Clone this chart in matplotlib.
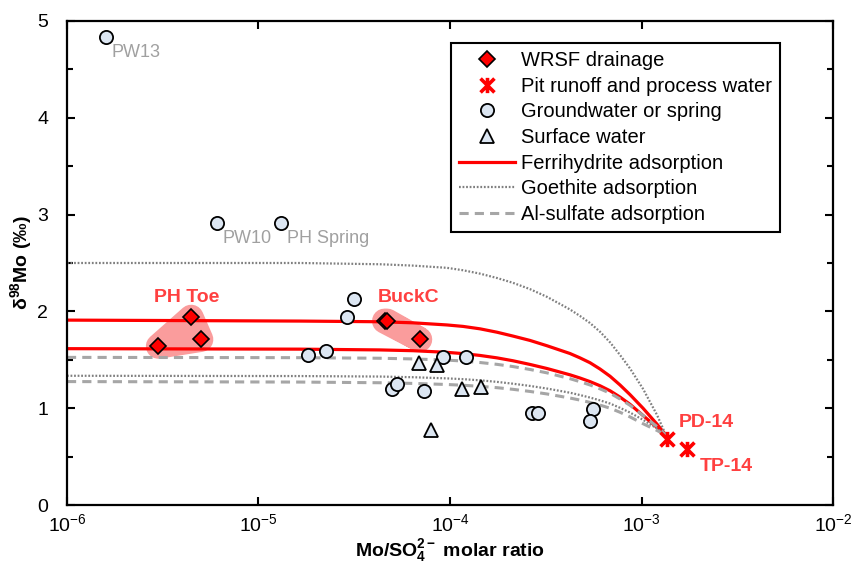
import matplotlib
matplotlib.use("Agg")
import matplotlib.pyplot as plt
from matplotlib.path import Path

plt.rcParams['font.family'] = ['Liberation Sans', 'DejaVu Sans']
plt.rcParams['mathtext.fontset'] = 'custom'
plt.rcParams['mathtext.rm'] = 'Liberation Sans'
plt.rcParams['mathtext.bf'] = 'Liberation Sans:bold'
plt.rcParams['mathtext.it'] = 'Liberation Sans:italic'

# --- sample data (Mo/SO4 molar ratio, d98Mo permil) ---
wrsf_x = [3.0e-6, 4.45e-6, 5.0e-6, 4.55e-5, 4.7e-5, 6.95e-5]
wrsf_y = [1.64, 1.94, 1.71, 1.90, 1.90, 1.71]

pit_x = [1.36e-3, 1.73e-3]
pit_y = [0.685, 0.575]
pit_names = ['PD-14', 'TP-14']

gw_x = [1.6e-6, 6.1e-6, 1.31e-5, 1.81e-5, 2.25e-5, 2.9e-5, 3.16e-5, 5.0e-5,
        5.3e-5, 7.3e-5, 9.2e-5, 1.21e-4, 2.67e-4, 2.89e-4, 5.56e-4, 5.38e-4]
gw_y = [4.83, 2.91, 2.91, 1.55, 1.59, 1.94, 2.13, 1.20,
        1.25, 1.18, 1.53, 1.53, 0.95, 0.95, 0.99, 0.87]
gw_names = {0: 'PW13', 1: 'PW10', 2: 'PH Spring'}

sw_x = [6.9e-5, 8.6e-5, 8.0e-5, 1.16e-4, 1.46e-4]
sw_y = [1.47, 1.45, 0.77, 1.20, 1.22]

# --- adsorption model curves ---
model_x = [1e-6, 1.65e-5, 4.31e-5, 6.41e-5, 9.64e-5, 1.169e-4, 1.434e-4, 1.759e-4,
           2.133e-4, 2.617e-4, 3.21e-4, 4.23e-4, 4.77e-4, 5.38e-4, 6.07e-4, 6.85e-4,
           7.72e-4, 8.71e-4, 1.018e-3, 1.205e-3, 1.342e-3]
ferri1_y = [1.91, 1.90, 1.893, 1.882, 1.86, 1.845, 1.82, 1.785, 1.745, 1.70, 1.645,
            1.565, 1.52, 1.47, 1.405, 1.33, 1.24, 1.14, 1.00, 0.835, 0.72]
ferri2_y = [1.615, 1.61, 1.602, 1.594, 1.577, 1.564, 1.545, 1.52, 1.49, 1.452, 1.41,
            1.345, 1.312, 1.275, 1.232, 1.18, 1.115, 1.04, 0.925, 0.80, 0.72]
goe1_y = [2.50, 2.50, 2.487, 2.473, 2.45, 2.425, 2.39, 2.345, 2.295, 2.23, 2.15,
          2.02, 1.953, 1.88, 1.79, 1.68, 1.55, 1.41, 1.20, 0.93, 0.72]
goe2_y = [1.335, 1.332, 1.327, 1.32, 1.308, 1.30, 1.288, 1.272, 1.253, 1.23, 1.203,
          1.16, 1.136, 1.11, 1.081, 1.048, 1.004, 0.955, 0.88, 0.79, 0.72]
als1_y = [1.525, 1.522, 1.516, 1.509, 1.497, 1.487, 1.472, 1.453, 1.43, 1.40, 1.365,
          1.305, 1.274, 1.24, 1.20, 1.155, 1.095, 1.03, 0.925, 0.81, 0.72]
als2_y = [1.275, 1.27, 1.263, 1.256, 1.245, 1.237, 1.226, 1.212, 1.195, 1.173, 1.147,
          1.105, 1.084, 1.06, 1.032, 1.00, 0.958, 0.91, 0.84, 0.77, 0.72]

red = '#ff0000'
lab_red = '#ff4040'
pink = '#fa9c9c'
circ_fc = '#dce6f2'

# Excel-style star: X with a vertical bar
star = Path([(-1, -1), (1, 1), (-1, 1), (1, -1), (0, -1.1), (0, 1.1)],
            [Path.MOVETO, Path.LINETO, Path.MOVETO, Path.LINETO, Path.MOVETO, Path.LINETO])

fig = plt.figure(figsize=(8.51, 5.64), dpi=100)
ax = fig.add_axes([0.0787, 0.1046, 0.9002, 0.8582])
ax.set_xscale('log')

# shaded groups
ax.fill(wrsf_x[:3], wrsf_y[:3], color=pink, lw=18, joinstyle='round', zorder=1)
ax.fill(wrsf_x[3:], wrsf_y[3:], color=pink, lw=18, joinstyle='round', zorder=1)

ax.plot(model_x, ferri1_y, color=red, lw=2.3, zorder=2, label='Ferrihydrite adsorption')
ax.plot(model_x, ferri2_y, color=red, lw=2.3, zorder=2)
ax.plot(model_x, goe1_y, color='#7f7f7f', lw=1.6, ls=(0, (0.8, 0.8)), zorder=2,
        label='Goethite adsorption')
ax.plot(model_x, goe2_y, color='#7f7f7f', lw=1.6, ls=(0, (0.8, 0.8)), zorder=2)
ax.plot(model_x, als1_y, color='#a6a6a6', lw=2.2, ls=(0, (3, 2)), zorder=2,
        label='Al-sulfate adsorption')
ax.plot(model_x, als2_y, color='#a6a6a6', lw=2.2, ls=(0, (3, 2)), zorder=2)

ax.plot(wrsf_x, wrsf_y, ls='none', marker='D', ms=8, mfc=red, mec='k', mew=1.2,
        zorder=4, label='WRSF drainage')
ax.plot(pit_x, pit_y, ls='none', marker=star, ms=11, mec=red, mew=2.6,
        zorder=4, label='Pit runoff and process water')
ax.plot(gw_x, gw_y, ls='none', marker='o', ms=9.5, mfc=circ_fc, mec='k', mew=1.3,
        zorder=4, label='Groundwater or spring')
ax.plot(sw_x, sw_y, ls='none', marker='^', ms=9.5, mfc=circ_fc, mec='k', mew=1.3,
        zorder=4, label='Surface water')

for i, name in gw_names.items():
    ax.annotate(name, (gw_x[i], gw_y[i]), xytext=(4, -14), textcoords='offset points',
                color='#a0a0a0', fontsize=13, ha='left', va='baseline')

ax.text(4.23e-6, 2.14, 'PH Toe', color=lab_red, fontsize=14, fontweight='bold',
        ha='center', va='center')
ax.text(6.04e-5, 2.14, 'BuckC', color=lab_red, fontsize=14, fontweight='bold',
        ha='center', va='center')
ax.text(2.17e-3, 0.857, pit_names[0], color=lab_red, fontsize=14, fontweight='bold',
        ha='center', va='center')
ax.text(2.76e-3, 0.393, pit_names[1], color=lab_red, fontsize=14, fontweight='bold',
        ha='center', va='center')

ax.set_xlim(1e-6, 1e-2)
ax.set_ylim(0, 5)
ax.set_yticks([0, 1, 2, 3, 4, 5])
ax.set_yticks([0.5, 1.5, 2.5, 3.5, 4.5], minor=True)
ax.set_xticks([1e-6, 1e-5, 1e-4, 1e-3, 1e-2])
ax.xaxis.set_minor_locator(matplotlib.ticker.NullLocator())
ax.tick_params(which='both', direction='in', top=True, right=True, width=1.5,
               labelsize=14)
ax.tick_params(which='major', length=6)
ax.tick_params(which='minor', length=4)
ax.tick_params(axis='y', pad=13.5)
ax.tick_params(axis='x', pad=6)
for sp in ax.spines.values():
    sp.set_linewidth(1.6)

ax.set_xlabel(r'Mo/SO$_\mathbf{4}^\mathbf{2-}$ molar ratio', fontsize=14,
              fontweight='bold', labelpad=1)
ax.set_ylabel(r'δ$^\mathbf{98}$Mo (‰)', fontsize=14, fontweight='bold', labelpad=2)

handles, labels = ax.get_legend_handles_labels()
order = ['WRSF drainage', 'Pit runoff and process water', 'Groundwater or spring',
         'Surface water', 'Ferrihydrite adsorption', 'Goethite adsorption',
         'Al-sulfate adsorption']
hmap = dict(zip(labels, handles))
leg = ax.legend([hmap[k] for k in order], order, loc='upper left',
                bbox_to_anchor=(0.501, 0.9545), fontsize=14.5, frameon=True,
                fancybox=False, framealpha=1, edgecolor='k', handlelength=2.8,
                handletextpad=0.3, labelspacing=0.33, borderpad=0.4,
                borderaxespad=0)
leg.get_frame().set_linewidth(1.5)

fig.savefig('out.png', dpi=100)
